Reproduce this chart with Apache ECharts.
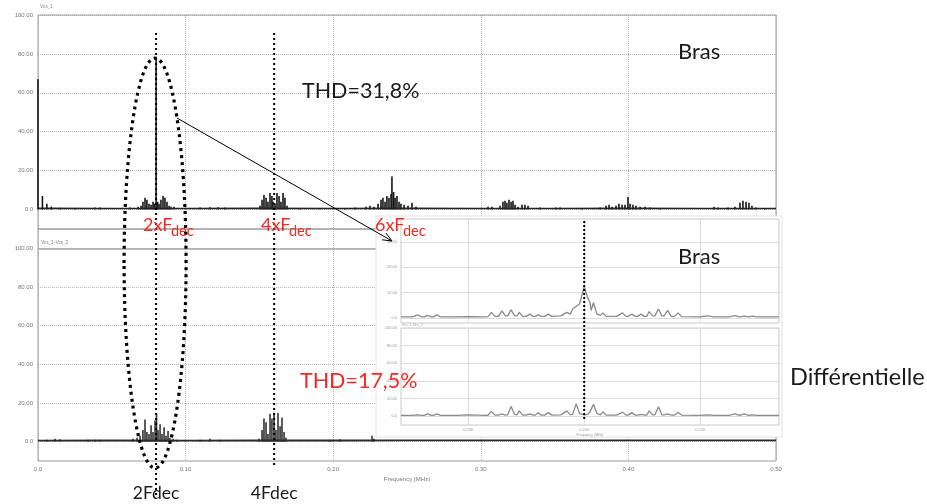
<!DOCTYPE html>
<html><head><meta charset="utf-8">
<script src="https://cdn.jsdelivr.net/npm/echarts@6/dist/echarts.min.js"></script>
<style>html,body{margin:0;padding:0;background:#fff}#c{width:927px;height:504px}</style>
</head><body><div id="c"></div>
<script>
// ---- axes / ticks ----
const freqTicks = [0, 0.1, 0.2, 0.3, 0.4, 0.5];
const freqTickLabels = ['0.0', '0.10', '0.20', '0.30', '0.40', '0.50'];
const ampTicks = [0, 20, 40, 60, 80, 100];
const ampTickLabels = ['0.0', '20.00', '40.00', '60.00', '80.00', '100.00'];
const insetFreqTicks = [0.23, 0.24, 0.25];
const insetFreqLabels = ['0.230', '0.240', '0.250'];
const insetTopTicks = [0, 10, 20, 30];
const insetTopLabels = ['0.0', '10.00', '20.00', '30.00'];
const markFreqs = [0.08, 0.16];           // 2Fdec, 4Fdec
const insetMarkFreq = 0.24;               // 6Fdec

// ---- top panel "Bras" (Vcs_1) spectral lines ----
const topLineF = [0.000, 0.003, 0.006, 0.009, 0.0149, 0.0251, 0.0386, 0.0420, 0.0623,
  0.0678, 0.0698, 0.0711, 0.0725, 0.0738, 0.0752, 0.0766, 0.0779, 0.0789, 0.0800, 0.0810,
  0.0820, 0.0833, 0.0847, 0.0860, 0.0874, 0.0888, 0.0901, 0.0921,
  0.1098, 0.1165, 0.1220, 0.1267,
  0.1504, 0.1518, 0.1531, 0.1545, 0.1558, 0.1572, 0.1585, 0.1592, 0.1606, 0.1619, 0.1633,
  0.1646, 0.1660, 0.1673, 0.1687,
  0.1775, 0.1911, 0.2080, 0.2148,
  0.2222, 0.2249, 0.2276, 0.2304, 0.2324, 0.2337, 0.2351, 0.2364, 0.2378, 0.2392, 0.2398,
  0.2409, 0.2419, 0.2432, 0.2446, 0.2459, 0.2480, 0.2507, 0.2534, 0.2561,
  0.3049, 0.3076, 0.3130, 0.3150, 0.3164, 0.3177, 0.3191, 0.3205, 0.3218, 0.3232, 0.3252,
  0.3279, 0.3299, 0.3320, 0.3401, 0.3509, 0.3537,
  0.3686, 0.3808, 0.3848, 0.3869, 0.3889, 0.3916, 0.3936, 0.3957, 0.3977, 0.3997, 0.4011,
  0.4031, 0.4051, 0.4079, 0.4112, 0.4146, 0.4214,
  0.4580, 0.4607, 0.4675, 0.4722, 0.4756, 0.4776, 0.4797, 0.4817, 0.4837, 0.4864, 0.4925];
const topLineA = [67, 7, 3, 1.5, 0.9, 0.7, 1.0, 1.0, 1.0,
  1.5, 2, 4, 6, 5, 3, 2.5, 4, 3, 78, 4,
  3, 5, 7, 6, 4, 2, 1.5, 1.5,
  1.0, 1.2, 1.2, 1.0,
  2, 5, 7.5, 6, 4, 8.5, 7, 4, 3, 8.5, 7,
  4, 8.5, 6, 2,
  0.8, 0.8, 0.8, 1.0,
  1.5, 2, 1.5, 3, 5, 6, 4, 7, 6, 8, 17,
  9, 6, 7, 4, 3, 2.5, 2, 3.5, 1.5,
  1.5, 1.5, 2, 4, 4.5, 3.5, 5, 4, 4.5, 2.5, 1.5,
  2.5, 2.5, 2, 1, 1, 1,
  0.8, 1, 2, 2.5, 1.5, 2, 3, 2.5, 2.5, 6.5, 3,
  2.5, 2, 1.5, 1.5, 1, 0.8,
  1.5, 1, 1, 1.5, 3.5, 4.5, 4, 3.5, 2, 1, 0.8];
const topFloorF = [0, 0.05, 0.1, 0.15, 0.2, 0.25, 0.3, 0.35, 0.4, 0.45, 0.5];
const topFloorA = [0.6, 0.5, 0.5, 0.6, 0.5, 0.6, 0.5, 0.5, 0.6, 0.5, 0.5];

// ---- bottom panel "Différentielle" (Vcs_1-Vcs_2) spectral lines ----
const botLineF = [0.0061, 0.0115, 0.0149, 0.0339, 0.0386, 0.0420,
  0.0644, 0.0671, 0.0691, 0.0711, 0.0725, 0.0738, 0.0752, 0.0766, 0.0779, 0.0793, 0.0803,
  0.0813, 0.0827, 0.0840, 0.0854, 0.0867, 0.0881, 0.0894, 0.0915, 0.0942,
  0.1098, 0.1165, 0.1233,
  0.1497, 0.1518, 0.1531, 0.1545, 0.1558, 0.1572, 0.1585, 0.1599, 0.1612, 0.1626, 0.1640,
  0.1653, 0.1667, 0.1680,
  0.1978, 0.2046, 0.2263, 0.2276];
const botLineA = [1, 1.5, 1.2, 1, 1, 1,
  1.5, 2, 3, 6, 11.5, 5, 4, 8.5, 5, 11, 14.5,
  6, 9, 4, 7.5, 3, 5.5, 2, 1.5, 1,
  1, 1.5, 1,
  1.5, 6, 12, 10, 4, 14.5, 12, 15, 6, 15, 8,
  12.5, 5, 2,
  1, 1.2, 3, 1.5];
const botFloorF = [0, 0.05, 0.1, 0.15, 0.2, 0.25, 0.3, 0.35, 0.4, 0.45, 0.5];
const botFloorA = [0.5, 0.6, 0.5, 0.6, 0.6, 0.7, 0.7, 0.7, 0.7, 0.7, 0.7];

// ---- inset zoom around 6Fdec ----
const insetF = [0.2242, 0.2252, 0.2256, 0.2260, 0.2262, 0.2265, 0.2268, 0.2270, 0.2273, 0.2276,
  0.2290, 0.2300, 0.2314, 0.2317, 0.2320, 0.2323, 0.2326, 0.2329, 0.2332, 0.2334,
  0.2337, 0.2340, 0.2342, 0.2344, 0.2347, 0.2350, 0.2353, 0.2356, 0.2358, 0.2360,
  0.2363, 0.2366, 0.2369, 0.2372, 0.2380, 0.2385, 0.2388, 0.2390, 0.2393, 0.2396,
  0.2400, 0.2403, 0.2405, 0.2406, 0.2408, 0.2411, 0.2414, 0.2416, 0.2419, 0.2428,
  0.2433, 0.2436, 0.2438, 0.2441, 0.2444, 0.2446, 0.2449, 0.2452, 0.2454, 0.2456,
  0.2459, 0.2461, 0.2464, 0.2467, 0.2469, 0.2472, 0.2475, 0.2478, 0.2481, 0.2484,
  0.2500, 0.2506, 0.2512, 0.2525, 0.2530, 0.2534, 0.2538, 0.2542, 0.2545, 0.2549, 0.2568];
const insetTopA = [0.4, 0.4, 1.2, 0.4, 0.4, 1.0, 0.4, 0.4, 1.2, 0.4,
  0.4, 0.5, 0.4, 0.5, 2.2, 0.6, 0.6, 2.8, 0.8, 0.8,
  3.2, 0.8, 0.8, 2.2, 0.6, 0.6, 1.5, 0.6, 0.6, 1.2,
  0.6, 0.6, 1.5, 0.6, 0.8, 2.2, 1.5, 3.5, 4.5, 5.5,
  12.4, 8, 6, 3, 6, 1.5, 1.0, 2, 0.6, 0.6,
  2, 0.6, 0.6, 1.5, 0.6, 0.6, 1.5, 0.6, 0.6, 2.5,
  0.8, 0.8, 3.5, 0.8, 0.8, 3, 0.6, 0.6, 2, 0.5,
  0.4, 0.8, 0.4, 0.4, 0.9, 0.4, 0.7, 0.4, 0.7, 0.4, 0.4];
const insetBotA = [1, 1, 1.5, 1, 1, 2.5, 1, 1, 2.5, 1,
  1, 1.5, 1, 1, 5.5, 1.2, 1.2, 2.5, 1.2, 1.5,
  11, 2, 1.5, 6, 1.2, 1.2, 2.5, 1.2, 1.2, 4,
  1.2, 1.2, 4, 1.2, 1.5, 6, 1.5, 2, 14, 3,
  1.5, 2, 5, 8, 13.6, 3, 1.5, 5, 1.2, 1.2,
  4.5, 1.2, 1.2, 4, 1.2, 1.2, 2, 1.2, 1.2, 6,
  1.5, 1.5, 10.6, 1.5, 1.5, 2.5, 1.2, 1.2, 4.5, 1.2,
  1, 1.5, 1, 1, 2.5, 1, 2.5, 1, 1.5, 1, 1];

// ---------------------------------------------------------------
const zip = (a, b) => a.map((v, i) => [v, b[i]]);
const FONT = 'Lato';
const RED = '#ee2b24';
const chart = echarts.init(document.getElementById('c'), null, { renderer: 'canvas' });

const mainX = (gi, showLabels) => ({
  type: 'value', gridIndex: gi, min: 0, max: 0.5, interval: 0.1, z: 1,
  axisLine: { show: false }, axisTick: { show: false },
  axisLabel: {
    show: showLabels, fontSize: 6, color: '#777', margin: 5, fontFamily: 'Liberation Sans',
    formatter: v => { const i = freqTicks.findIndex(t => Math.abs(t - v) < 1e-9); return i >= 0 ? freqTickLabels[i] : ''; }
  },
  splitLine: { show: true, lineStyle: { color: '#b5b5b5', type: [1, 1], width: 1 } },
  name: showLabels ? 'Frequency (MHz)' : '', nameLocation: 'middle', nameGap: 15,
  nameTextStyle: { fontSize: 6, color: '#777', fontFamily: 'Liberation Sans' }
});
const mainY = (gi, min, max) => ({
  type: 'value', gridIndex: gi, min: min, max: max, z: 1,
  axisLine: { show: false },
  axisTick: { show: false, customValues: ampTicks },
  axisLabel: {
    customValues: ampTicks, fontSize: 6, color: '#777', margin: 5, fontFamily: 'Liberation Sans',
    formatter: v => ampTickLabels[ampTicks.indexOf(v)]
  },
  splitLine: { show: true, lineStyle: { color: '#b5b5b5', type: [1, 1], width: 1 } }
});
const insetX = (gi, showLabels) => ({
  type: 'value', gridIndex: gi, min: 0.2242, max: 0.2568, z: 7,
  axisLine: { show: false },
  axisTick: { show: false, customValues: insetFreqTicks },
  axisLabel: {
    show: showLabels, customValues: insetFreqTicks, fontSize: 4, color: '#999', margin: 3,
    fontFamily: 'Liberation Sans',
    formatter: v => insetFreqLabels[insetFreqTicks.findIndex(t => Math.abs(t - v) < 1e-9)]
  },
  splitLine: { show: true, lineStyle: { color: '#dcdcdc', width: 1 } },
  name: showLabels ? 'Frequency (MHz)' : '', nameLocation: 'middle', nameGap: 8,
  nameTextStyle: { fontSize: 3.5, color: '#999', fontFamily: 'Liberation Sans' }
});
const insetY = (gi, min, max, ticks, labels) => ({
  type: 'value', gridIndex: gi, min: min, max: max, z: 7,
  axisLine: { show: false },
  axisTick: { show: false, customValues: ticks },
  axisLabel: {
    customValues: ticks, fontSize: 4, color: '#999', margin: 4, fontFamily: 'Liberation Sans',
    formatter: v => labels[ticks.indexOf(v)]
  },
  splitLine: { show: true, lineStyle: { color: '#dcdcdc', width: 1 } }
});

chart.setOption({
  animation: false,
  backgroundColor: '#fff',
  grid: [
    { left: 38, top: 15, width: 738, height: 214, show: true, borderColor: '#9a9a9a', borderWidth: 1, backgroundColor: 'transparent', z: 2 },
    { left: 38, top: 229, width: 738, height: 232, show: true, borderColor: '#9a9a9a', borderWidth: 1, backgroundColor: 'transparent', z: 2 },
    { left: 401, top: 219, width: 378, height: 104, show: true, borderColor: '#c8c8c8', borderWidth: 1, backgroundColor: 'transparent', z: 7 },
    { left: 401, top: 328, width: 378, height: 97, show: true, borderColor: '#c8c8c8', borderWidth: 1, backgroundColor: 'transparent', z: 7 }
  ],
  xAxis: [mainX(0, false), mainX(1, true), insetX(2, false), insetX(3, true)],
  yAxis: [mainY(0, -10, 100), mainY(1, -10, 110),
    insetY(2, -2, 39, insetTopTicks, insetTopLabels),
    insetY(3, -10, 100, ampTicks, ampTickLabels)],
  series: [
    { type: 'line', xAxisIndex: 0, yAxisIndex: 0, data: zip(topFloorF, topFloorA), symbol: 'none', z: 2,
      lineStyle: { color: '#222', width: 1.6 } },
    { type: 'bar', xAxisIndex: 0, yAxisIndex: 0, data: zip(topLineF, topLineA), barWidth: 1.6, z: 2,
      itemStyle: { color: '#151515' } },
    { type: 'line', xAxisIndex: 1, yAxisIndex: 1, data: zip(botFloorF, botFloorA), symbol: 'none', z: 2,
      lineStyle: { color: '#2a2a2a', width: 1.8 } },
    { type: 'bar', xAxisIndex: 1, yAxisIndex: 1, data: zip(botLineF, botLineA), barWidth: 1.6, z: 2,
      itemStyle: { color: '#333' },
      markLine: { silent: true, symbol: 'none', label: { show: false },
        lineStyle: { color: '#a8a8a8', type: 'solid', width: 1.5 }, data: [{ yAxis: 100 }] } },
    { type: 'line', xAxisIndex: 2, yAxisIndex: 2, data: zip(insetF, insetTopA), symbol: 'none', z: 8,
      lineStyle: { color: '#8a8a8a', width: 1.3 } },
    { type: 'line', xAxisIndex: 3, yAxisIndex: 3, data: zip(insetF, insetBotA), symbol: 'none', z: 8,
      lineStyle: { color: '#8a8a8a', width: 1.3 } }
  ]
});

// ---- annotations ----
const x2 = chart.convertToPixel({ xAxisIndex: 1 }, markFreqs[0]);
const x4 = chart.convertToPixel({ xAxisIndex: 1 }, markFreqs[1]);
const x6 = chart.convertToPixel({ xAxisIndex: 2 }, insetMarkFreq);
const arrowFrom = [177, 118], arrowTo = [392, 241];
const dx = arrowTo[0] - arrowFrom[0], dy = arrowTo[1] - arrowFrom[1];
const L = Math.hypot(dx, dy), ux = dx / L, uy = dy / L;
const head = (ang) => {
  const c = Math.cos(ang), s = Math.sin(ang);
  const hx = -(ux * c - uy * s) * 10, hy = -(ux * s + uy * c) * 10;
  return [arrowTo[0] + hx, arrowTo[1] + hy];
};
const txt = (text, x, y, size, color, align, extra) => Object.assign({
  type: 'text', x: x, y: y, z: 60,
  style: { text: text, fontSize: size, fill: color, fontFamily: FONT, align: align || 'left', verticalAlign: 'middle' }
}, extra || {});
const dotted = { stroke: '#000', lineWidth: 2, lineDash: [2, 3] };

chart.setOption({
  graphic: [
    { type: 'rect', z: 5, shape: { x: 376, y: 216, width: 406, height: 221 }, style: { fill: '#fff', stroke: '#e2e2e2', lineWidth: 1 } },
    txt('Vcs_1', 40, 6, 5, '#888'),
    txt('Vcs_1-Vcs_2', 41, 242, 5, '#888'),
    { type: 'text', x: 402, y: 325, z: 9, style: { text: 'Vcs_1-Vcs_2', fontSize: 3.5, fill: '#999', fontFamily: 'Liberation Sans', verticalAlign: 'middle' } },
    { type: 'line', z: 55, shape: { x1: x2, y1: 33, x2: x2, y2: 498 }, style: dotted },
    { type: 'line', z: 55, shape: { x1: x4, y1: 33, x2: x4, y2: 468 }, style: dotted },
    { type: 'line', z: 55, shape: { x1: x6, y1: 221, x2: x6, y2: 419 }, style: { stroke: '#000', lineWidth: 2, lineDash: [2, 2] } },
    { type: 'ellipse', z: 55, shape: { cx: x2 - 1, cy: 263, rx: 31, ry: 205 }, style: { fill: null, stroke: '#000', lineWidth: 3.2, lineDash: [3, 4] } },
    { type: 'line', z: 55, shape: { x1: arrowFrom[0], y1: arrowFrom[1], x2: arrowTo[0], y2: arrowTo[1] }, style: { stroke: '#000', lineWidth: 1 } },
    { type: 'polyline', z: 55, shape: { points: [head(0.4), arrowTo, head(-0.4)] }, style: { stroke: '#000', lineWidth: 1, fill: null } },
    txt('THD=31,8%', 302, 91, 21.5, '#1a1a1a'),
    txt('Bras', 678, 52, 22, '#1a1a1a'),
    txt('Bras', 678, 257, 22, '#1a1a1a'),
    txt('THD=17,5%', 300, 381, 21.5, RED),
    txt('Différentielle', 790, 377, 23.5, '#1a1a1a'),
    txt('2xF', 143, 225, 18, RED), txt('dec', 171, 231, 14.5, RED),
    txt('4xF', 261, 225, 18, RED), txt('dec', 289, 231, 14.5, RED),
    txt('6xF', 375, 225, 18, RED), txt('dec', 403, 231, 14.5, RED),
    txt('2Fdec', x2, 493, 17.5, '#1a1a1a', 'center'),
    txt('4Fdec', x4, 493, 17.5, '#1a1a1a', 'center')
  ]
});
</script></body></html>
